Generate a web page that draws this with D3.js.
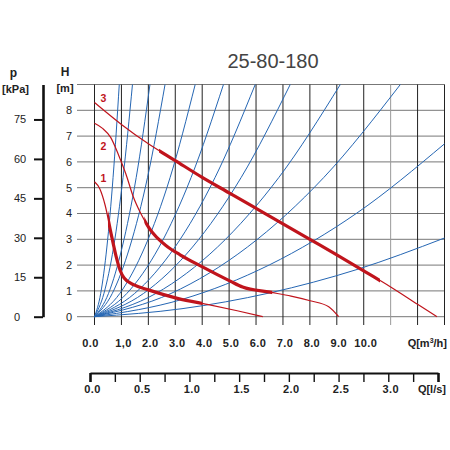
<!DOCTYPE html>
<html>
<head>
<meta charset="utf-8">
<script src="https://cdn.jsdelivr.net/npm/d3@7"></script>
<style>
body { margin: 0; background: #fff; }
text { font-family: "Liberation Sans", Arial, sans-serif; }
</style>
</head>
<body>
<svg id="chart" width="450" height="450"></svg>
<script>
// flow ticks (m3/h) and their printed labels
var qTicks = [0, 1, 2, 3, 4, 5, 6, 7, 8, 9, 10];
var qLabels = ["0.0", "1,0", "2.0", "3.0", "4.0", "5.0", "6.0", "7.0", "8.0", "9.0", "10.0"];
var qGrid = [0, 1, 2, 3, 4, 5, 6, 7, 8, 9, 10, 11, 12, 13];
var hGrid = [0, 1, 2, 3, 4, 5, 6, 7, 8, 9];
var hTicks = [0, 1, 2, 3, 4, 5, 6, 7, 8];
var pTicks = [0, 15, 30, 45, 60, 75];
var lsTicks = [0, 0.25, 0.5, 0.75, 1, 1.25, 1.5, 1.75, 2, 2.25, 2.5, 2.75, 3, 3.25, 3.5];
var lsLabels = [0, 0.5, 1, 1.5, 2, 2.5, 3];

// system curves [Q m3/h, H m]
var systemCurves = [
    [[0, 0], [0.23, 0.9], [0.46, 2.7], [0.69, 5.4], [0.92, 9]],
    [[0, 0], [0.35, 0.9], [0.71, 2.7], [1.06, 5.4], [1.41, 9]],
    [[0, 0], [0.52, 0.9], [1.03, 2.7], [1.55, 5.4], [2.06, 9]],
    [[0, 0], [0.66, 0.9], [1.31, 2.7], [1.97, 5.4], [2.62, 9]],
    [[0, 0], [0.94, 0.9], [1.87, 2.7], [2.81, 5.4], [3.74, 9]],
    [[0, 0], [1.2, 0.9], [2.4, 2.7], [3.59, 5.4], [4.79, 9]],
    [[0, 0], [1.49, 0.9], [2.99, 2.7], [4.48, 5.4], [5.97, 9]],
    [[0, 0], [1.82, 0.9], [3.64, 2.7], [5.45, 5.4], [7.27, 9]],
    [[0, 0], [2.28, 0.9], [4.57, 2.7], [6.85, 5.4], [9.13, 9]],
    [[0, 0], [2.84, 0.9], [5.68, 2.7], [8.52, 5.4], [11.36, 9]],
    [[0, 0], [3.25, 0.67], [6.5, 2.01], [9.75, 4.02], [13, 6.7]],
    [[0, 0], [3.25, 0.31], [6.5, 0.92], [9.75, 1.83], [13, 3.05]]
];

// pump curves, speeds 1..3
var pump1 = [[0, 5.23], [0.2, 4.95], [0.4, 4.3], [0.6, 3.3], [0.8, 2.35], [0.95, 1.8],
             [1.1, 1.5], [1.47, 1.23], [2.03, 1.03], [3.08, 0.71], [4.32, 0.45], [5.3, 0.23], [6.25, 0]];
var pump2 = [[0, 7.5], [0.3, 7.3], [0.6, 6.95], [0.9, 6.25], [1.16, 5.55], [1.44, 4.65],
             [1.72, 4.0], [2.03, 3.43], [2.71, 2.71], [3.18, 2.4], [3.99, 1.94], [5.04, 1.38], [5.5, 1.15],
             [6.52, 0.95], [7.3, 0.8], [8.01, 0.62], [8.7, 0.39], [9.07, 0]];
var pump3 = [[0, 8.3], [1, 7.45], [2, 6.7], [3, 6.05], [4, 5.4], [5, 4.8], [6, 4.2], [7, 3.6],
             [8, 3.0], [9, 2.4], [10, 1.78], [11, 1.15], [12, 0.48], [12.72, 0]];
var pumps = [pump1, pump2, pump3];
var pumpThick = [[0.5, 4.0], [1.85, 6.6], [2.4, 10.6]];
var pumpNames = ["1", "2", "3"];
var pumpLabelH = [5.35, 6.6, 8.45];

var svg = d3.select("#chart");

var x = d3.scaleLinear().domain([0, 13]).range([94.5, 444.5]);
var y = d3.scaleLinear().domain([0, 9]).range([316.7, 84.5]);
var p = d3.scaleLinear().domain([0, 9 * 9.81]).range([316.7, 84.5]);
var ls = d3.scaleLinear().domain([0, 3.5]).range([90, 438]);

// grid
svg.append("g").selectAll("line")
    .data(hGrid)
    .enter()
    .append("line")
    .attr("x1", 77).attr("x2", x(13))
    .attr("y1", d => y(d)).attr("y2", d => y(d))
    .attr("stroke", "#777")
    .attr("stroke-width", 1);

svg.append("g").selectAll("line")
    .data(qGrid)
    .enter()
    .append("line")
    .attr("x1", d => x(d)).attr("x2", d => x(d))
    .attr("y1", y(9)).attr("y2", 325)
    .attr("stroke", d => d == 11 ? "#999" : "#222")
    .attr("stroke-width", 1);

// system curves
var line = d3.line()
    .x(d => x(d[0]))
    .y(d => y(d[1]))
    .curve(d3.curveMonotoneX);

svg.append("g").selectAll("path")
    .data(systemCurves)
    .enter()
    .append("path")
    .attr("d", line)
    .attr("fill", "none")
    .attr("stroke", "#2566b3")
    .attr("stroke-width", 1);

// pump curves: thin whole curve, thick working range through a clip
var defs = svg.append("defs");
pumps.forEach(function(pts, i) {
    defs.append("clipPath")
        .attr("id", "thick" + i)
        .append("rect")
        .attr("x", x(pumpThick[i][0]))
        .attr("width", x(pumpThick[i][1]) - x(pumpThick[i][0]))
        .attr("y", 0)
        .attr("height", 450);

    svg.append("path")
        .attr("d", line(pts))
        .attr("fill", "none")
        .attr("stroke", "#c0141c")
        .attr("stroke-width", 1.2);

    svg.append("path")
        .attr("d", line(pts))
        .attr("fill", "none")
        .attr("stroke", "#c0141c")
        .attr("stroke-width", 3.2)
        .attr("clip-path", "url(#thick" + i + ")");
});

svg.append("g").selectAll("text")
    .data(pumpNames)
    .enter()
    .append("text")
    .attr("x", 103.5)
    .attr("y", (d, i) => y(pumpLabelH[i]))
    .attr("dy", "0.35em")
    .attr("text-anchor", "middle")
    .attr("font-size", 10.5)
    .attr("font-weight", "bold")
    .attr("fill", "#c0141c")
    .text(d => d);

// H tick labels
svg.append("g").selectAll("text")
    .data(hTicks)
    .enter()
    .append("text")
    .attr("x", 69)
    .attr("y", d => y(d))
    .attr("dy", "0.35em")
    .attr("text-anchor", "middle")
    .attr("font-size", 11)
    .attr("fill", "#222")
    .text(d => d);

// Q m3/h labels
svg.append("g").selectAll("text")
    .data(qTicks)
    .enter()
    .append("text")
    .attr("x", (d, i) => x(d) + (i == 0 ? -4 : 2))
    .attr("y", 343)
    .attr("dy", "0.35em")
    .attr("text-anchor", "middle")
    .attr("font-size", 11)
    .attr("font-weight", "bold")
    .attr("letter-spacing", 0.4)
    .attr("fill", "#222")
    .text((d, i) => qLabels[i]);

svg.append("text")
    .attr("x", 447).attr("y", 343).attr("dy", "0.35em")
    .attr("text-anchor", "end")
    .attr("font-size", 11).attr("font-weight", "bold").attr("fill", "#222")
    .html("Q[m<tspan font-size='7' dy='-4'>3</tspan><tspan dy='4'>/h]</tspan>");

// pressure axis
var pAxis = svg.append("g")
    .attr("transform", "translate(43,0)")
    .call(d3.axisLeft(p).tickValues(pTicks).tickSize(9).tickSizeOuter(0));
pAxis.select(".domain").attr("stroke", "#111").attr("stroke-width", 2.6);
pAxis.selectAll(".tick line").attr("stroke", "#111").attr("stroke-width", 2);
pAxis.selectAll(".tick text")
    .attr("text-anchor", "start")
    .attr("x", -29)
    .attr("font-size", 11)
    .attr("font-family", "Liberation Sans, Arial, sans-serif")
    .attr("fill", "#222");

// l/s axis
var lsAxis = svg.append("g")
    .attr("transform", "translate(0,373)")
    .call(d3.axisBottom(ls).tickValues(lsTicks).tickSize(9).tickSizeOuter(0).tickPadding(3)
        .tickFormat(d => lsLabels.includes(d) ? d.toFixed(1) : ""));
lsAxis.select(".domain").attr("stroke", "#111").attr("stroke-width", 2);
lsAxis.selectAll(".tick line")
    .attr("stroke", "#111")
    .attr("stroke-width", d => (d == 0 || d == 3.5) ? 2.6 : 1.4);
lsAxis.selectAll(".tick text")
    .attr("x", 2)
    .attr("font-size", 11)
    .attr("font-weight", "bold")
    .attr("letter-spacing", 0.4)
    .attr("font-family", "Liberation Sans, Arial, sans-serif")
    .attr("fill", "#222");

svg.append("text")
    .attr("x", 446).attr("y", 389).attr("dy", "0.35em")
    .attr("text-anchor", "end")
    .attr("font-size", 11).attr("font-weight", "bold").attr("fill", "#222")
    .text("Q[l/s]");

// axis titles
svg.append("text").attr("x", 13.5).attr("y", 73).attr("dy", "0.35em")
    .attr("text-anchor", "middle").attr("font-size", 12).attr("font-weight", "bold").attr("fill", "#222")
    .text("p");
svg.append("text").attr("x", 15.5).attr("y", 89).attr("dy", "0.35em")
    .attr("text-anchor", "middle").attr("font-size", 11).attr("font-weight", "bold").attr("fill", "#222")
    .text("[kPa]");
svg.append("text").attr("x", 65).attr("y", 71.5).attr("dy", "0.35em")
    .attr("text-anchor", "middle").attr("font-size", 12).attr("font-weight", "bold").attr("fill", "#222")
    .text("H");
svg.append("text").attr("x", 65).attr("y", 88.5).attr("dy", "0.35em")
    .attr("text-anchor", "middle").attr("font-size", 11).attr("font-weight", "bold").attr("fill", "#222")
    .text("[m]");

// title
svg.append("text")
    .attr("x", 273).attr("y", 68)
    .attr("text-anchor", "middle")
    .attr("font-family", "Roboto, sans-serif")
    .attr("font-weight", 300)
    .attr("font-size", 20)
    .attr("fill", "#444")
    .text("25-80-180");
</script>
</body>
</html>
